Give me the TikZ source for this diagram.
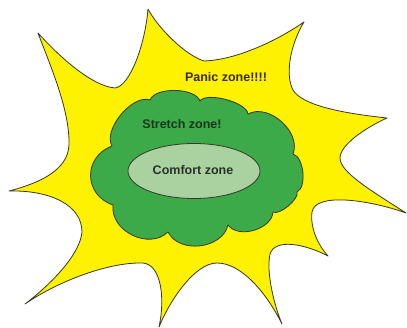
\documentclass[tikz,border=0pt]{standalone}
\usepackage{fontspec}
\setmainfont{Liberation Sans}
\usetikzlibrary{shapes.geometric}
\definecolor{panicyellow}{RGB}{255,242,0}
\definecolor{stretchgreen}{RGB}{60,170,72}
\definecolor{comfortgreen}{RGB}{170,210,160}
\definecolor{edgegray}{RGB}{55,55,45}
\definecolor{panictext}{RGB}{60,45,15}
\definecolor{stretchtext}{RGB}{25,55,30}
\definecolor{comforttext}{RGB}{40,50,40}
\tikzset{
  outline/.style={draw=edgegray, line width=0.8pt, line join=round},
  zonelabel/.style={font=\bfseries\fontsize{12.5}{14}\selectfont, inner sep=0pt},
  bump/.style={bend left=70, looseness=#1}
}
\begin{document}
\begin{tikzpicture}[x=1pt, y=-1pt]
\useasboundingbox (0,0) rectangle (407,328);
% panic zone star
\path[outline, fill=panicyellow] (38,33)
 .. controls (55,52) and (90,86) .. (115,88)
 .. controls (130,86) and (145,45) .. (148,9)
 .. controls (158,28) and (185,55) .. (204,61)
 .. controls (235,60) and (275,42) .. (304,22)
 .. controls (290,45) and (285,75) .. (293,90)
 .. controls (302,105) and (340,113) .. (387,118)
 .. controls (365,128) and (340,145) .. (340,158)
 .. controls (340,172) and (370,190) .. (406,213)
 .. controls (370,200) and (315,192) .. (312,212)
 .. controls (310,228) and (318,245) .. (328,256)
 .. controls (305,244) and (275,238) .. (270,254)
 .. controls (266,272) and (274,305) .. (282,324)
 .. controls (265,290) and (240,263) .. (217,263)
 .. controls (195,263) and (170,300) .. (159,327)
 .. controls (165,300) and (162,265) .. (143,263)
 .. controls (110,262) and (60,280) .. (25,304)
 .. controls (50,285) and (80,255) .. (82,232)
 .. controls (82,205) and (50,190) .. (9,191)
 .. controls (40,183) and (68,170) .. (69,145)
 .. controls (70,110) and (50,65) .. (38,33) -- cycle;
% stretch zone cloud
\path[outline, fill=stretchgreen] (113,205)
 to[bump=1.35] (112,146)
 to[bump=0.8] (150,100)
 to[bump=0.73] (200,101)
 to[bump=0.6] (248,114)
 to[bump=1.0] (293,154)
 to[bump=0.75] (297,192)
 to[bump=0.6] (273,212)
 to[bump=0.95] (228,225)
 to[bump=1.05] (168,232)
 to[bump=1.1] (113,205) -- cycle;
% comfort zone
\node[ellipse, outline, fill=comfortgreen, minimum width=132pt, minimum height=55pt, inner sep=0pt] (comfortzone) at (194,171) {};
\node[zonelabel, text=comforttext] (comfort) at (193,170) {Comfort zone};
\node[zonelabel, text=stretchtext] (stretch) at (182,124) {Stretch zone!};
\node[zonelabel, text=panictext] (panic) at (226,77) {Panic zone!!!!};
\end{tikzpicture}
\end{document}
